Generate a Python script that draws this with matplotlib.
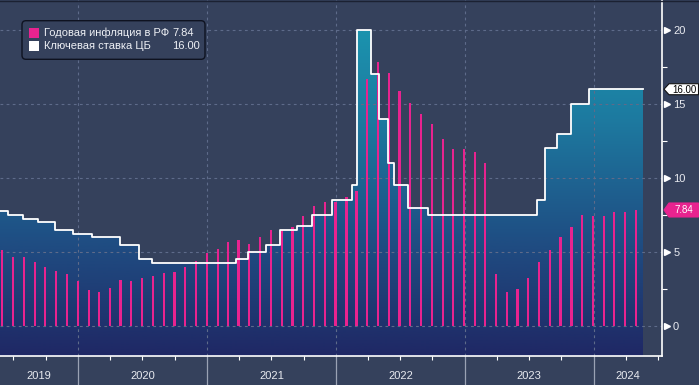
import numpy as np
import pandas as pd
import matplotlib
matplotlib.use("Agg")
import matplotlib.pyplot as plt
import matplotlib.dates as mdates
from matplotlib.colors import LinearSegmentedColormap
from matplotlib.patches import Polygon, FancyBboxPatch, Rectangle
from matplotlib.transforms import IdentityTransform, blended_transform_factory
from matplotlib.lines import Line2D

plt.rcParams['font.family'] = ['Liberation Sans', 'DejaVu Sans']

# ---------------- data ----------------
infl_start = "2019-05-31"
inflation = [5.13, 4.66, 4.63, 4.31, 3.99, 3.75, 3.54, 3.05,
             2.42, 2.31, 2.55, 3.10, 3.03, 3.21, 3.37, 3.58, 3.67, 3.99, 4.42, 4.91,
             5.19, 5.67, 5.79, 5.53, 6.02, 6.50, 6.46, 6.68, 7.41, 8.13, 8.40, 8.39,
             8.73, 9.15, 16.69, 17.83, 17.11, 15.90, 15.10, 14.30, 13.68, 12.63, 11.98, 11.94,
             11.77, 10.99, 3.51, 2.31, 2.51, 3.25, 4.30, 5.15, 6.00, 6.69, 7.48, 7.42,
             7.44, 7.69, 7.72, 7.84]

rate_dates = ["2019-05-01", "2019-06-17", "2019-07-29", "2019-09-09", "2019-10-28", "2019-12-16",
              "2020-02-10", "2020-04-27", "2020-06-22", "2020-07-27",
              "2021-03-22", "2021-04-26", "2021-06-15", "2021-07-26", "2021-09-13", "2021-10-25", "2021-12-20",
              "2022-02-14", "2022-02-28", "2022-04-11", "2022-05-04", "2022-05-27", "2022-06-14", "2022-07-25", "2022-09-19",
              "2023-07-24", "2023-08-15", "2023-09-18", "2023-10-30", "2023-12-18",
              "2024-05-20"]
rate_values = [7.75, 7.50, 7.25, 7.00, 6.50, 6.25,
               6.00, 5.50, 4.50, 4.25,
               4.50, 5.00, 5.50, 6.50, 6.75, 7.50, 8.50,
               9.50, 20.00, 17.00, 14.00, 11.00, 9.50, 8.00, 7.50,
               8.50, 12.00, 13.00, 15.00, 16.00,
               16.00]

legend_labels = ["Годовая инфляция в РФ", "Ключевая ставка ЦБ"]
legend_values = ["7.84", "16.00"]
years = [2019, 2020, 2021, 2022, 2023, 2024]
yticks = [0, 5, 10, 15, 20]

# ---------------- style ----------------
BG = "#35415c"
PINK = "#e8238f"
GRID = "#5e6b8a"
W, H = 699, 385

fig = plt.figure(figsize=(W / 100, H / 100), dpi=100)
fig.patch.set_facecolor(BG)
ax_bottom_px = 355.7
ax = fig.add_axes([0, (H - ax_bottom_px) / H, 662 / W, ax_bottom_px / H])
ax.set_facecolor(BG)

x0 = mdates.date2num(pd.Timestamp("2019-05-24"))
x1 = mdates.date2num(pd.Timestamp("2024-07-13"))
y0, y1 = -2.007, 22.03

rx = mdates.date2num(pd.to_datetime(rate_dates))
ry = np.array(rate_values)

# step polygon for the filled area
px = np.repeat(rx, 2)[1:]
py = np.repeat(ry, 2)[:-1]
verts = np.column_stack([np.r_[px, px[-1], px[0]], np.r_[py, y0 - 1, y0 - 1]])
clip_poly = Polygon(verts, closed=True, transform=ax.transData)

cmap = LinearSegmentedColormap.from_list("g", ["#1f2865", "#1f4f84", "#1d7aa0", "#1b9cb3"])
grad = np.linspace(0, 1, 256).reshape(-1, 1)
im = ax.imshow(grad, cmap=cmap, extent=[x0, x1, y0, y1], origin="lower",
               aspect="auto", zorder=1, interpolation="bilinear")
im.set_clip_path(clip_poly)

ax.step(rx, ry, where="post", color="white", lw=1.3, zorder=4)

# grid
for yv in yticks:
    ax.axhline(yv, color=GRID, lw=0.8, ls=(0, (2.5, 3)), zorder=2)
for yr in years[1:]:
    ax.axvline(mdates.date2num(pd.Timestamp(f"{yr}-01-01")), color=GRID, lw=0.8,
               ls=(0, (2.5, 3)), zorder=2)

# inflation bars
bx = mdates.date2num(pd.date_range(infl_start, periods=len(inflation), freq="ME")) - 0.5
ax.bar(bx, inflation, width=6.3, color=PINK, zorder=3, linewidth=0)

# spines
for s in ["top", "left"]:
    ax.spines[s].set_visible(False)
for s in ["bottom", "right"]:
    ax.spines[s].set_color("white")
    ax.spines[s].set_linewidth(1.2)

# right axis ticks
ax.yaxis.tick_right()
ax.set_yticks(yticks)
ax.set_yticklabels([str(v) for v in yticks])
ax.set_yticks([2.5, 7.5, 12.5, 17.5], minor=True)
ax.tick_params(axis="y", which="major", length=0, pad=8, labelsize=8, labelcolor="#e8eaf0")
ax.tick_params(axis="y", which="minor", length=3.5, width=0.8, color="white", direction="out")
tri_tr = blended_transform_factory(ax.transAxes, ax.transData)
ax.plot([1 + 4.5 / 662] * len(yticks), yticks, ls="none", marker=">", ms=4.5,
        color="white", mec="white", transform=tri_tr, clip_on=False, zorder=6)

# bottom ticks (quarters)
qt = [d for d in pd.date_range("2019-04-01", "2024-07-01", freq="QS")
      if d.month != 1 and x0 <= mdates.date2num(d) <= x1]
ax.set_xticks(mdates.date2num(qt))
ax.set_xticklabels([])
ax.tick_params(axis="x", length=3, width=0.8, color="white", direction="out")

ax.set_xlim(x0, x1)
ax.set_ylim(y0, y1)

# year labels and separators
xtr = blended_transform_factory(ax.transData, ax.transAxes)
for yr in years:
    a = max(x0, mdates.date2num(pd.Timestamp(f"{yr}-01-01")))
    b = min(x1, mdates.date2num(pd.Timestamp(f"{yr + 1}-01-01")))
    ax.text((a + b) / 2, -20.5 / ax_bottom_px, str(yr), transform=xtr, ha="center", va="center",
            fontsize=8, color="#e8eaf0")
    if yr > years[0]:
        xs = mdates.date2num(pd.Timestamp(f"{yr}-01-01"))
        ax.add_line(Line2D([xs, xs], [0, -30 / ax_bottom_px], transform=xtr, color="#9aa2b4",
                           lw=0.9, clip_on=False))

# value tags on right axis
fig.canvas.draw()
def tag(value, face, edge, tcolor, text, hh):
    yd = ax.transData.transform((x0, value))[1]
    xl, xb, xr = 664.0, 669.0, 698.5
    poly = Polygon([[xl, yd], [xb, yd + hh], [xr, yd + hh], [xr, yd - hh], [xb, yd - hh]],
                   closed=True, facecolor=face, edgecolor=edge, lw=0.8,
                   transform=IdentityTransform(), zorder=10)
    fig.add_artist(poly)
    fig.text(684, yd - 0.5, text, transform=IdentityTransform(), ha="center", va="center",
             fontsize=7, color=tcolor, zorder=11)

tag(rate_values[-1], "white", "#111111", "black", legend_values[1], 5.5)
tag(inflation[-1], PINK, PINK, "white", legend_values[0], 7.0)

# legend
lg = FancyBboxPatch((22, H - 59.3), 183, 38.6, boxstyle="round,pad=0,rounding_size=4",
                    facecolor=BG, edgecolor="#0e1220", lw=1.0, transform=IdentityTransform(),
                    zorder=12)
fig.add_artist(lg)
rows = [(H - 33.0, PINK), (H - 46.0, "white")]
for (yc, col), lab, val in zip(rows, legend_labels, legend_values):
    fig.add_artist(Rectangle((29, yc - 4.6), 10, 9.2, facecolor=col, edgecolor="none",
                             transform=IdentityTransform(), zorder=13))
    fig.text(44, yc, lab, transform=IdentityTransform(), ha="left", va="center",
             fontsize=8, color="#eef0f5", zorder=13)
    fig.text(172, yc, val, transform=IdentityTransform(), ha="left", va="center",
             fontsize=8, color="#eef0f5", zorder=13)

# thin dark top border
fig.add_artist(Line2D([0, W], [H - 0.5, H - 0.5], transform=IdentityTransform(),
                      color="#1b2132", lw=1.0, zorder=20))

fig.savefig("out.png", dpi=100, facecolor=BG)
